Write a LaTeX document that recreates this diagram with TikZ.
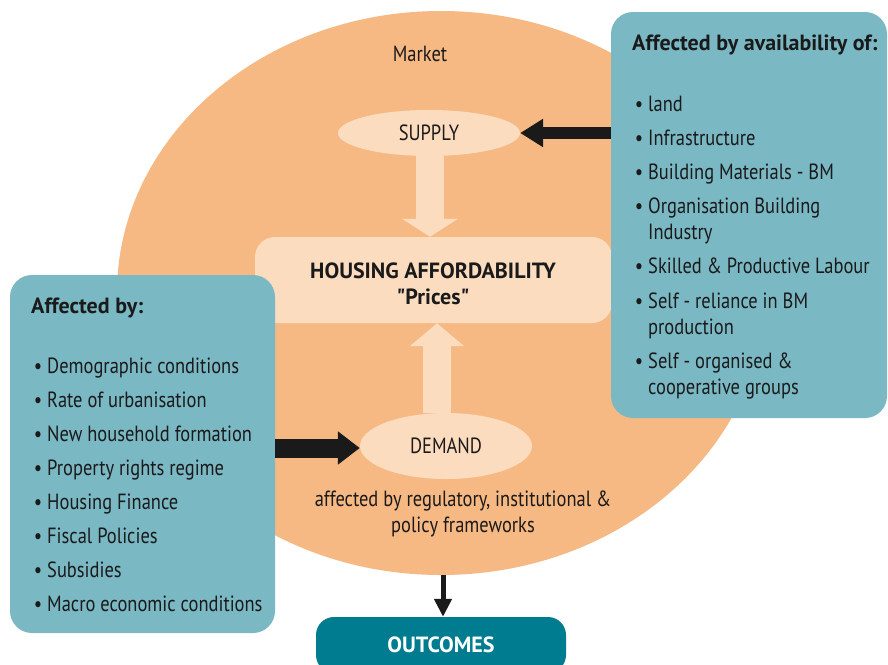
\documentclass[tikz,border=0pt]{standalone}
\usepackage{fontspec}
\setmainfont{PT Sans}[FakeStretch=0.84, BoldFeatures={FakeStretch=1.0}]
\usetikzlibrary{shapes.geometric,arrows.meta,calc}
\definecolor{mkt}{HTML}{F7B983}
\definecolor{peach}{HTML}{FCDCBF}
\definecolor{tealbox}{HTML}{7AB8C4}
\definecolor{outc}{HTML}{007C91}
\definecolor{ink}{HTML}{1A1A1A}
\newcommand{\itm}[1]{\parbox[t]{235pt}{\raggedright\leavevmode\llap{\textbullet\hspace{5pt}}#1}}
\begin{document}
\begin{tikzpicture}[x=1pt,y=-1pt,
  txt/.style={text=ink, inner sep=0pt, font=\fontsize{22}{26}\selectfont},
  btxt/.style={text=ink, inner sep=0pt, font=\fontsize{22}{26}\selectfont\bfseries},
  listitem/.style={txt, anchor=base west},
  lightblob/.style={fill=peach, inner sep=0pt},
  bigbox/.style={fill=tealbox, rounded corners=22pt, inner sep=0pt},
  lightarrow/.style={draw=peach, line width=28pt},
  darkarrow/.style={draw=ink}]
\useasboundingbox (0,0) rectangle (888,664);
\fill[white] (0,0) rectangle (888,664);
% market ellipse
\node[ellipse, fill=mkt, inner sep=0pt, minimum width=648pt, minimum height=564pt] (market) at (441,293) {};
\node[txt, anchor=base] (mlabel) at (420,61) {Market};
% central box
\node[lightblob, rounded corners=20pt, minimum width=357pt, minimum height=86pt] (ha) at (433.5,280) {};
\node[btxt, anchor=base] (hatext) at (433,278) {\parbox[t]{340pt}{\centering HOUSING AFFORDABILITY\\\textquotedbl Prices\textquotedbl}};
% supply & demand
\node[lightblob, ellipse, minimum width=182pt, minimum height=46pt, txt] (supply) at (429,133) {SUPPLY};
\node[lightblob, ellipse, minimum width=172pt, minimum height=66pt, txt] (demand) at (446,446) {DEMAND};
\draw[lightarrow, -{Triangle[width=55pt,length=18pt]}] ([xshift=1pt]supply.south) -- ([xshift=1pt]supply.south |- ha.north);
\draw[lightarrow, -{Triangle[width=53pt,length=23pt]}] ([xshift=-9pt]demand.north) -- ([xshift=-9pt]demand.north |- ha.south);
\node[txt, anchor=base] (framework) at (463,506) {\parbox[t]{340pt}{\centering affected by regulatory, institutional \&\\policy frameworks}};
% left box
\node[bigbox, minimum width=265pt, minimum height=358pt] (lbox) at (142.5,454) {};
\node[btxt, anchor=base west] (ltitle) at (31,313) {Affected by:};
\node[listitem] (l1) at (47,373) {\itm{Demographic conditions}};
\node[listitem] (l2) at (47,407) {\itm{Rate of urbanisation}};
\node[listitem] (l3) at (47,441) {\itm{New household formation}};
\node[listitem] (l4) at (47,475) {\itm{Property rights regime}};
\node[listitem] (l5) at (47,509) {\itm{Housing Finance}};
\node[listitem] (l6) at (47,543) {\itm{Fiscal Policies}};
\node[listitem] (l7) at (47,577) {\itm{Subsidies}};
\node[listitem] (l8) at (47,611) {\itm{Macro economic conditions}};
% right box
\node[bigbox, minimum width=276pt, minimum height=406pt] (rbox) at (749,215) {};
\node[btxt, anchor=base west] (rtitle) at (632,50) {Affected by availability of:};
\node[listitem] (r1) at (648,111) {\itm{land}};
\node[listitem] (r2) at (648,145) {\itm{Infrastructure}};
\node[listitem] (r3) at (648,179) {\itm{Building Materials - BM}};
\node[listitem] (r4) at (648,213) {\itm{Organisation Building\\Industry}};
\node[listitem] (r5) at (648,273) {\itm{Skilled \& Productive Labour}};
\node[listitem] (r6) at (648,308) {\itm{Self - reliance in BM\\production}};
\node[listitem] (r7) at (648,368) {\itm{Self - organised \&\\cooperative groups}};
% black arrows
\draw[darkarrow, line width=12pt, -{Triangle[width=27pt,length=23pt]}] (rbox.west |- supply.east) -- (supply.east);
\draw[darkarrow, line width=19pt, -{Triangle[width=32pt,length=22pt]}] ([yshift=-2pt]lbox.east |- demand.west) -- ([yshift=-2pt]demand.west);
% outcomes
\node[fill=outc, rounded corners=18pt, inner sep=0pt, minimum width=250pt, minimum height=56pt, text=white, font=\fontsize{22}{26}\selectfont\bfseries] (outcomes) at (441,645) {OUTCOMES};
\draw[darkarrow, line width=5pt, -{Triangle[width=17pt,length=18pt]}] ([xshift=2pt]market.south) -- ([xshift=2pt]market.south |- outcomes.north);
\end{tikzpicture}
\end{document}
